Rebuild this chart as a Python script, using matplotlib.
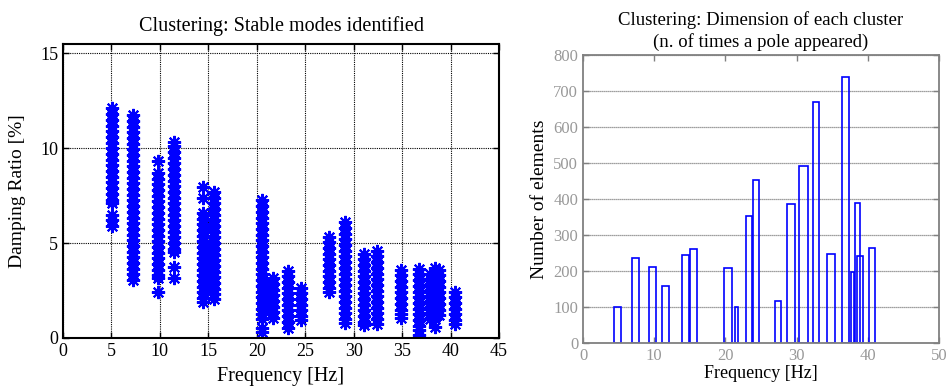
import matplotlib
matplotlib.use("Agg")
import matplotlib.pyplot as plt

plt.rcParams['font.family'] = ['Liberation Serif', 'DejaVu Serif']

# ---------------- Left: stable modes (frequency [Hz], damping [%]) ----------------
cluster_freqs = [
    [5.05], [7.25], [9.8], [11.5], [14.45], [15.6], [20.5], [21.7], [23.2], [24.55],
    [27.45], [29.1], [31.05], [32.45], [34.85], [36.7], [37.9], [38.35], [38.8], [40.45],
]
cluster_damping = [
    [12.15, 11.8, 11.5, 11.2, 10.9, 10.6, 10.3, 10.0, 9.7, 9.4, 9.1, 8.8, 8.5, 8.2, 7.9, 7.6, 7.3, 7.1, 6.5, 6.2, 5.9],
    [11.75, 11.45, 11.15, 10.85, 10.55, 10.25, 9.95, 9.65, 9.35, 9.05, 8.75, 8.45, 8.15, 7.85, 7.55, 7.25, 6.95,
     6.65, 6.35, 6.05, 5.75, 5.45, 5.15, 4.85, 4.55, 4.25, 3.95, 3.65, 3.35, 3.05],
    [9.35, 8.7, 8.4, 8.1, 7.8, 7.5, 7.2, 6.9, 6.6, 6.3, 6.0, 5.7, 5.4, 5.1, 4.8, 4.5, 4.2, 3.9, 3.6, 3.3, 3.15, 2.45],
    [10.35, 10.1, 9.8, 9.5, 9.2, 8.9, 8.6, 8.3, 8.0, 7.7, 7.4, 7.1, 6.8, 6.5, 6.2, 5.9, 5.6, 5.3, 5.0, 4.7, 4.55,
     3.75, 3.15],
    [7.95, 7.4, 6.6, 6.3, 6.0, 5.7, 5.4, 5.1, 4.8, 4.5, 4.2, 3.9, 3.6, 3.3, 3.0, 2.7, 2.4, 2.1, 1.9],
    [7.7, 7.4, 7.1, 6.8, 6.5, 6.2, 5.9, 5.6, 5.3, 5.0, 4.7, 4.4, 4.1, 3.8, 3.5, 3.2, 2.9, 2.6, 2.3, 2.05],
    [7.25, 6.95, 6.65, 6.35, 6.05, 5.75, 5.45, 5.15, 4.85, 4.55, 4.25, 3.95, 3.65, 3.35, 3.05, 2.75, 2.45, 2.15,
     1.85, 1.55, 1.25, 1.0, 0.55, 0.3],
    [3.15, 2.85, 2.55, 2.25, 1.95, 1.65, 1.35, 1.05],
    [3.55, 3.25, 2.95, 2.65, 2.35, 2.05, 1.75, 1.45, 1.15, 0.85, 0.55],
    [2.65, 2.35, 2.05, 1.75, 1.45, 1.15, 0.95],
    [5.35, 5.05, 4.75, 4.45, 4.15, 3.85, 3.55, 3.25, 2.95, 2.65, 2.4],
    [6.1, 5.8, 5.5, 5.2, 4.9, 4.6, 4.3, 4.0, 3.7, 3.4, 3.1, 2.8, 2.5, 2.2, 1.9, 1.6, 1.3, 1.0, 0.8],
    [4.45, 4.15, 3.85, 3.55, 3.25, 2.95, 2.65, 2.35, 2.05, 1.75, 1.45, 1.15, 0.85, 0.7],
    [4.6, 4.3, 4.0, 3.7, 3.4, 3.1, 2.8, 2.5, 2.2, 1.9, 1.6, 1.3, 1.0, 0.75],
    [3.6, 3.3, 3.0, 2.7, 2.4, 2.1, 1.8, 1.5, 1.25, 1.05],
    [3.65, 3.35, 3.05, 2.75, 2.45, 2.15, 1.85, 1.55, 1.25, 0.95, 0.65, 0.4, 0.15],
    [3.4, 3.1, 2.8, 2.5, 2.2, 1.9, 1.6, 1.3, 1.0],
    [3.7, 3.4, 3.1, 2.8, 2.5, 2.2, 1.9, 1.6, 1.3, 1.0, 0.6],
    [3.6, 3.3, 3.0, 2.7, 2.4, 2.1, 1.8, 1.5, 1.2],
    [2.45, 2.15, 1.85, 1.55, 1.25, 0.95, 0.75],
]

left_xticks = [0, 5, 10, 15, 20, 25, 30, 35, 40, 45]
left_yticks = [0, 5, 10, 15]

# ---------------- Right: cluster dimensions ----------------
bar_centers = [4.85, 7.36, 9.75, 11.6, 14.4, 15.5, 20.4, 21.55, 23.36, 24.3,
               27.35, 29.15, 30.95, 32.7, 34.87, 36.88, 37.9, 38.56, 38.9, 40.6]
bar_widths = [1.08, 0.94, 0.94, 0.94, 0.98, 0.94, 1.12, 0.47, 0.8, 0.8,
              0.9, 1.12, 1.18, 0.8, 1.12, 0.94, 0.46, 0.76, 0.94, 0.84]
bar_counts = [100, 237, 212, 157, 245, 260, 208, 100, 354, 454,
              116, 385, 491, 670, 248, 740, 197, 388, 241, 263]
right_xticks = [0, 10, 20, 30, 40, 50]
right_yticks = [0, 100, 200, 300, 400, 500, 600, 700, 800]

fig = plt.figure(figsize=(9.47, 3.90), dpi=100)

# Left axes
ax1 = fig.add_axes([63 / 947, 52 / 390, 436 / 947, 294 / 390])
for fr, dm in zip(cluster_freqs, cluster_damping):
    for f in fr:
        ax1.plot([f] * len(dm), dm, linestyle='none', marker=(8, 2, 0),
                 markersize=9.5, markeredgewidth=1.5, color='#0000ff')
ax1.set_xlim(0, 45)
ax1.set_ylim(0, 15.5)
ax1.set_xticks(left_xticks)
ax1.set_yticks(left_yticks)
ax1.grid(True, color='black', linestyle=(0, (1, 1)), linewidth=0.8)
ax1.tick_params(direction='in', top=True, right=True, labelsize=13, length=4, width=1)
for s in ax1.spines.values():
    s.set_linewidth(1.5)
ax1.set_title('Clustering: Stable modes identified', fontsize=14.5, pad=9)
ax1.set_xlabel('Frequency [Hz]', fontsize=14.5, labelpad=5)
ax1.set_ylabel('Damping Ratio [%]', fontsize=14, labelpad=10)

# Right axes
gray = '#808080'
ax2 = fig.add_axes([583 / 947, 47 / 390, 356 / 947, 288 / 390])
ax2.bar(bar_centers, bar_counts, width=bar_widths, fill=False,
        edgecolor='#0000ff', linewidth=1.2)
ax2.set_xlim(0, 50)
ax2.set_ylim(0, 800)
ax2.set_xticks(right_xticks)
ax2.set_yticks(right_yticks)
ax2.yaxis.grid(True, color=gray, linestyle=(0, (1, 0.6)), linewidth=0.9)
ax2.set_axisbelow(True)
ax2.tick_params(direction='in', top=True, right=True, labelsize=12, length=4,
                color=gray, labelcolor='#999999', width=1)
for s in ax2.spines.values():
    s.set_linewidth(1.3)
    s.set_color(gray)
ax2.set_title('Clustering: Dimension of each cluster\n(n. of times a pole appeared)',
              fontsize=13.5, pad=6, linespacing=1.3)
ax2.set_xlabel('Frequency [Hz]', fontsize=13, labelpad=1)
ax2.set_ylabel('Number of elements', fontsize=14, labelpad=4)

fig.savefig('out.png', dpi=100)
